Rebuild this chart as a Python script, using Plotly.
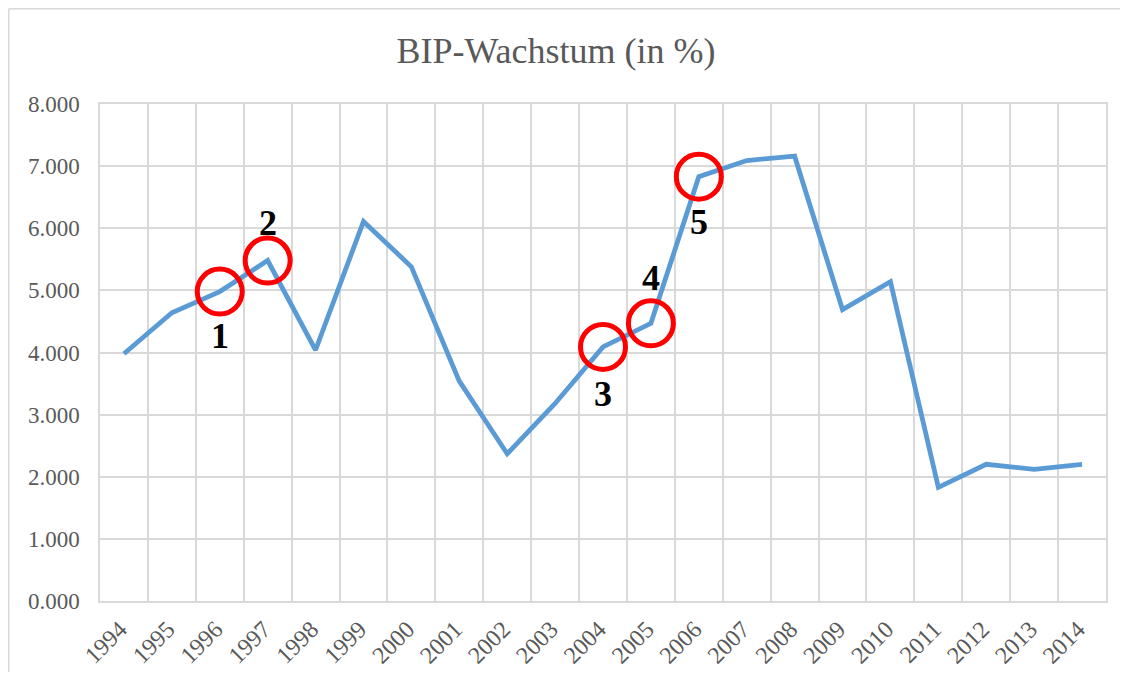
import plotly.graph_objects as go

years = [str(y) for y in range(1994, 2015)]
growth = [3.98, 4.64, 4.98, 5.48, 4.04, 6.11, 5.38, 3.54, 2.37, 3.18, 4.09,
          4.47, 6.83, 7.09, 7.16, 4.69, 5.14, 1.83, 2.20, 2.12, 2.20]

marked_years = ["1996", "1997", "2004", "2005", "2006"]
marked_labels = ["1", "2", "3", "4", "5"]
label_shift = [-44, 38, -47, 45, -45]

marked_idx = [years.index(y) for y in marked_years]
marked_vals = [growth[i] for i in marked_idx]

GRID = "#D9D9D9"
TXT = "#595959"
FONT = "Liberation Serif"

W, H = 1112, 664
L, R, T, B = 92, 14, 96, 71
PW, PH = W - L - R, H - T - B

fig = go.Figure()
fig.add_trace(go.Scatter(
    x=years, y=growth, mode="lines",
    line=dict(color="#5B9BD5", width=4.8),
    hoverinfo="x+y", showlegend=False,
))
fig.add_trace(go.Scatter(
    x=marked_years, y=marked_vals, mode="markers",
    marker=dict(symbol="circle-open", size=45, color="#FF0000",
                line=dict(color="#FF0000", width=5)),
    showlegend=False, hoverinfo="skip",
))

for i, v, lab, sh in zip(marked_idx, marked_vals, marked_labels, label_shift):
    fig.add_annotation(x=i, y=v, xref="x", yref="y", text=f"<b>{lab}</b>",
                       showarrow=False, yshift=sh,
                       font=dict(family=FONT, size=36, color="#000000"))

# outer chart border (top and left visible)
bx = (0.75 - L) / PW
by = 1 + (T - 0.75) / PH
fig.add_shape(type="line", xref="paper", yref="paper",
              x0=bx, x1=1.1, y0=by, y1=by,
              line=dict(color=GRID, width=1.5))
fig.add_shape(type="line", xref="paper", yref="paper",
              x0=bx, x1=bx, y0=by, y1=-0.3,
              line=dict(color=GRID, width=1.5))

fig.update_layout(
    width=W, height=H,
    margin=dict(l=L, r=R, t=T, b=B, autoexpand=False),
    paper_bgcolor="white", plot_bgcolor="white",
    title=dict(text="BIP-Wachstum (in %)", x=548 / W, xref="container",
               xanchor="center", y=1 - 42 / H, yref="container", yanchor="middle",
               font=dict(family=FONT, size=36, color=TXT)),
    font=dict(family=FONT, color=TXT),
)
fig.update_xaxes(
    type="category", categoryorder="array", categoryarray=years,
    tickson="boundaries", showgrid=True, gridcolor=GRID, gridwidth=1.5,
    showline=True, mirror=True, linecolor=GRID, linewidth=1.5,
    ticks="", tickangle=-45, tickfont=dict(family=FONT, size=24, color=TXT),
    ticklabelstandoff=3, ticklabelshift=-4, automargin=False,
    range=[-0.5, 20.5], zeroline=False,
)
fig.update_yaxes(
    range=[0, 8], dtick=1, tick0=0, tickformat=".3f",
    showgrid=True, gridcolor=GRID, gridwidth=1.5,
    showline=True, mirror=True, linecolor=GRID, linewidth=1.5,
    zeroline=False, ticks="", ticklabelstandoff=14, automargin=False,
    tickfont=dict(family=FONT, size=23, color=TXT),
)

fig.write_html("out.html")
